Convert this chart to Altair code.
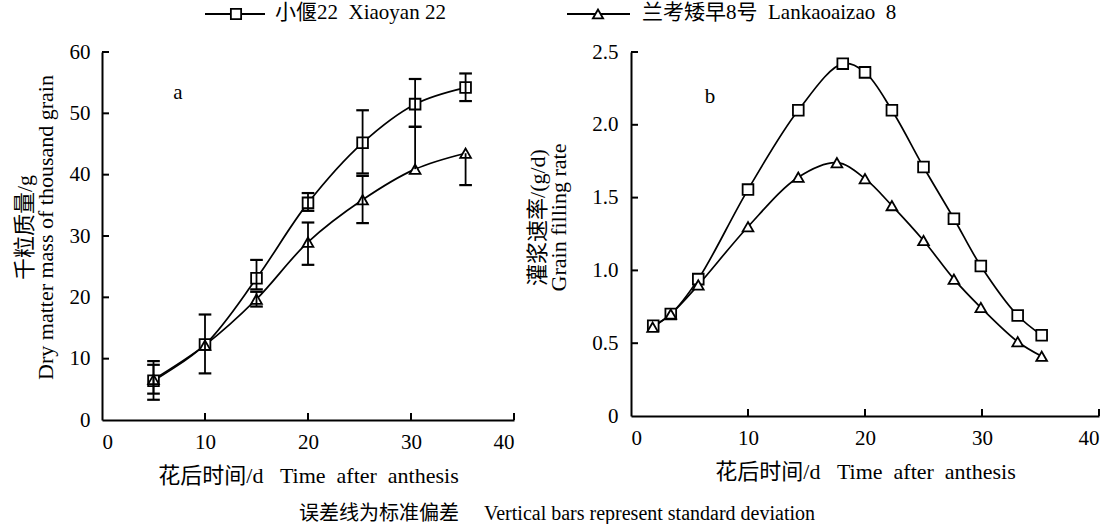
import altair as alt
import pandas as pd

FONT = "Liberation Serif, Noto Sans CJK SC"
SP = "\u00a0"  # non-breaking space keeps wide gaps in SVG text

# Panel a: dry matter mass of thousand grain (g), mean with SD
days_a = [5, 10, 15, 20, 25.3, 30.4, 35.3]
xiaoyan_mass = [6.4, 12.3, 23.1, 35.4, 45.2, 51.5, 54.2]
xiaoyan_sd_up = [3.2, 4.9, 3.0, 1.6, 5.3, 4.1, 2.3]
xiaoyan_sd_down = [3.1, 4.7, 1.8, 1.3, 5.0, 3.7, 2.2]
lankao_mass = [6.6, 12.2, 19.7, 29.0, 35.9, 40.9, 43.5]
lankao_sd_up = [2.4, 0.0, 1.2, 3.2, 3.9, 6.9, 0.0]
lankao_sd_down = [2.3, 0.0, 1.2, 3.7, 3.8, 0.0, 5.2]

# Panel b: grain filling rate (g/d)
days_b_xiaoyan = [1.9, 3.4, 5.75, 10.0, 14.3, 18.1, 20.0, 22.3, 25.0, 27.6, 29.9, 33.05, 35.1]
rate_xiaoyan = [0.62, 0.70, 0.94, 1.555, 2.10, 2.42, 2.36, 2.10, 1.71, 1.355, 1.03, 0.69, 0.555]
days_b_lankao = [1.85, 3.4, 5.75, 10.0, 14.3, 17.6, 20.0, 22.3, 25.0, 27.6, 29.9, 33.05, 35.1]
rate_lankao = [0.61, 0.70, 0.90, 1.30, 1.64, 1.74, 1.63, 1.445, 1.205, 0.94, 0.745, 0.51, 0.41]

cultivars = ["小偃22" + SP * 2 + "Xiaoyan 22", "兰考矮早8号" + SP * 2 + "Lankaoaizao" + SP * 2 + "8"]
shapes = ["square", "triangle-up"]
x_ticks = [0, 10, 20, 30, 40]
mass_ticks = [0, 10, 20, 30, 40, 50, 60]
rate_ticks = [0, 0.5, 1.0, 1.5, 2.0, 2.5]

x_title = "花后时间/d" + SP * 3 + "Time" + SP * 2 + "after" + SP * 2 + "anthesis"
mass_title = ["千粒质量/g", "Dry matter mass of thousand grain"]
rate_title = ["灌浆速率/(g/d)", "Grain filling rate"]
footnote = "误差线为标准偏差" + SP * 5 + "Vertical bars represent standard deviation"

# ---- tables -------------------------------------------------------------
mass_df = pd.concat([
    pd.DataFrame({"day": days_a, "val": xiaoyan_mass, "up": xiaoyan_sd_up,
                  "down": xiaoyan_sd_down, "cultivar": cultivars[0]}),
    pd.DataFrame({"day": days_a, "val": lankao_mass, "up": lankao_sd_up,
                  "down": lankao_sd_down, "cultivar": cultivars[1]}),
], ignore_index=True)
mass_df["lo"] = mass_df["val"] - mass_df["down"]
mass_df["hi"] = mass_df["val"] + mass_df["up"]
bars_df = mass_df[(mass_df["up"] > 0) | (mass_df["down"] > 0)]
caps_df = pd.concat([
    mass_df[mass_df["up"] > 0][["day", "hi"]].rename(columns={"hi": "val"}),
    mass_df[mass_df["down"] > 0][["day", "lo"]].rename(columns={"lo": "val"}),
], ignore_index=True)

rate_df = pd.concat([
    pd.DataFrame({"day": days_b_xiaoyan, "val": rate_xiaoyan, "cultivar": cultivars[0]}),
    pd.DataFrame({"day": days_b_lankao, "val": rate_lankao, "cultivar": cultivars[1]}),
], ignore_index=True)

W_A, H_A = 412, 368
W_B, H_B = 468, 364
TICK = 7

shape_scale = alt.Scale(domain=cultivars, range=shapes)


def panel(df, y_domain, y_ticks, y_title, w, h, title_x, title_y, label_expr, tag, tag_pos,
          bars=None, caps=None, extra=None):
    axis_kw = dict(values=y_ticks, title=y_title, labelPadding=12,
                   titleX=title_x, titleY=title_y, titleAngle=-90,
                   titleAlign="center", titleBaseline="middle", titleLineHeight=21)
    if label_expr:
        axis_kw.update(labelExpr=label_expr, labelPadding=13)
    xs = alt.Scale(domain=[0, 40], nice=False)
    ys = alt.Scale(domain=y_domain, nice=False)
    X = alt.X("day:Q", scale=xs,
              axis=alt.Axis(values=x_ticks, title=x_title, labelPadding=11,
                            titleY=55, titleBaseline="middle"))
    Y = alt.Y("val:Q", scale=ys, axis=alt.Axis(**axis_kw))

    base = alt.Chart(df)
    line = base.mark_line(interpolate="catmull-rom", color="black", strokeWidth=1.7).encode(
        x=X, y=Y, detail="cultivar:N")
    pts = base.mark_point(fill="white", stroke="black", strokeWidth=1.8, size=115,
                          opacity=1, fillOpacity=1, strokeOpacity=1).encode(
        x=X, y=Y, shape=alt.Shape("cultivar:N", scale=shape_scale, legend=None))
    layers = [line, pts]
    if bars is not None:
        layers.append(alt.Chart(bars).mark_rule(color="black", strokeWidth=1.8).encode(
            x=X, y=alt.Y("lo:Q", scale=ys), y2="hi:Q"))
        layers.append(alt.Chart(caps).mark_point(shape="stroke", size=160, color="black",
                                                 strokeWidth=2.2, opacity=1).encode(x=X, y=Y))

    # inward tick marks on both axes
    xt = pd.DataFrame({"day": x_ticks[1:]})
    yt = pd.DataFrame({"val": y_ticks[1:]})
    layers.append(alt.Chart(xt).mark_rule(color="black", strokeWidth=2).encode(
        x=X, y=alt.value(h), y2=alt.value(h - TICK)))
    layers.append(alt.Chart(yt).mark_rule(color="black", strokeWidth=2).encode(
        y=Y, x=alt.value(0), x2=alt.value(TICK)))

    tag_df = pd.DataFrame({"label": [tag]})
    layers.append(alt.Chart(tag_df).mark_text(font=FONT, fontSize=21, color="black").encode(
        text="label:N", x=alt.value(tag_pos[0]), y=alt.value(tag_pos[1])))
    if extra is not None:
        layers.append(extra)
    return alt.layer(*layers).properties(width=w, height=h)


note_df = pd.DataFrame({"label": [footnote]})
note = alt.Chart(note_df).mark_text(font=FONT, fontSize=20, color="black",
                                    align="center", baseline="middle").encode(
    text="label:N", x=alt.value(455), y=alt.value(462))

panel_a = panel(mass_df, [0, 60], mass_ticks, mass_title, W_A, H_A, -78, 175, None,
                "a", (76, 41), bars=bars_df, caps=caps_df, extra=note)
panel_b = panel(rate_df, [0, 2.5], rate_ticks, rate_title, W_B, H_B, -94, 165,
                "datum.value == 0 ? '0' : format(datum.value, '.1f')", "b", (79, 45))

# ---- legend row ---------------------------------------------------------
one = pd.DataFrame({"k": [0]})
legend_layers = [
    # anchors the top-left corner of the drawing
    alt.Chart(one).mark_rule(color="white", strokeWidth=1).encode(
        x=alt.value(-101.5), x2=alt.value(-100.5), y=alt.value(0.5), y2=alt.value(1.5)),
]
legend_items = [(103, 163, 134, 173), (465, 528, 496, 540)]
for name, shp, (x1, x2, xm, xt_) in zip(cultivars, shapes, legend_items):
    legend_layers.append(alt.Chart(one).mark_rule(color="black", strokeWidth=2).encode(
        x=alt.value(x1), x2=alt.value(x2), y=alt.value(14)))
    legend_layers.append(alt.Chart(one).mark_point(
        shape=shp, fill="white", stroke="black", strokeWidth=1.8, size=105,
        opacity=1, fillOpacity=1).encode(x=alt.value(xm), y=alt.value(14)))
    legend_layers.append(alt.Chart(pd.DataFrame({"label": [name]})).mark_text(
        font=FONT, fontSize=21, color="black", align="left", baseline="middle").encode(
        text="label:N", x=alt.value(xt_), y=alt.value(13)))
legend_row = alt.layer(*legend_layers).properties(width=W_A + 117 + W_B, height=28)

chart = alt.vconcat(
    legend_row,
    alt.hconcat(panel_a, panel_b, spacing=117, bounds="flush"),
    spacing=24, bounds="flush",
).properties(padding=0).configure_view(stroke=None).configure_axis(
    domainColor="black", domainWidth=2, ticks=False, grid=False,
    labelFont=FONT, labelFontSize=21, labelColor="black",
    titleFont=FONT, titleFontSize=22, titleColor="black", titleFontWeight="normal",
)

chart.save("out.html", embed_options={"renderer": "svg", "actions": False})
